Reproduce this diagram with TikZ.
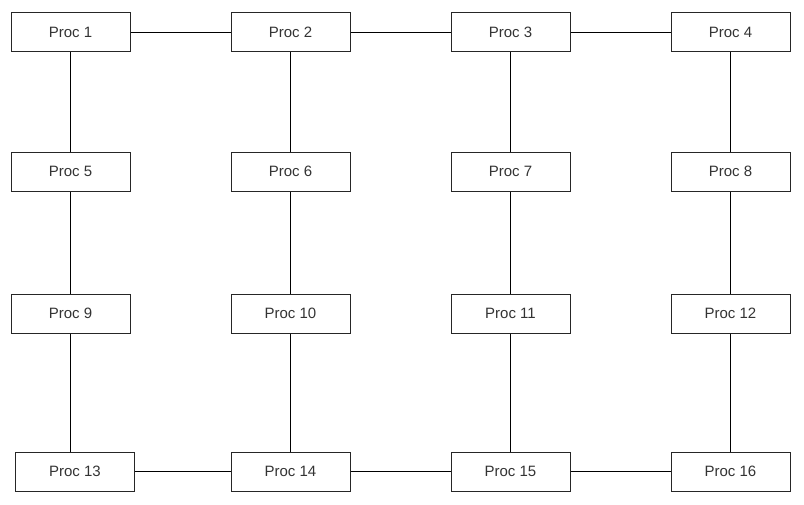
\documentclass[tikz,border=0pt]{standalone}
\usepackage{fontspec}
\setmainfont{Liberation Sans}
\begin{document}
\begin{tikzpicture}[x=1pt,y=-1pt,
  proc/.style={draw=black!85,line width=1pt,minimum width=119pt,minimum height=39pt,inner sep=0pt,
    font=\fontsize{15pt}{17pt}\selectfont,text=black!80},
  link/.style={draw=black,line width=1pt}]
\useasboundingbox (0,0) rectangle (804,504);
\node[proc] (p1) at (70.5,32) {Proc 1};
\node[proc] (p2) at (290.5,32) {Proc 2};
\node[proc] (p3) at (510.5,32) {Proc 3};
\node[proc] (p4) at (730.5,32) {Proc 4};
\node[proc] (p5) at (70.5,171.5) {Proc 5};
\node[proc] (p6) at (290.5,171.5) {Proc 6};
\node[proc] (p7) at (510.5,171.5) {Proc 7};
\node[proc] (p8) at (730.5,171.5) {Proc 8};
\node[proc] (p9) at (70.5,313.5) {Proc 9};
\node[proc] (p10) at (290.5,313.5) {Proc 10};
\node[proc] (p11) at (510.5,313.5) {Proc 11};
\node[proc] (p12) at (730.5,313.5) {Proc 12};
\node[proc] (p13) at (75,471.5) {Proc 13};
\node[proc] (p14) at (290.5,471.5) {Proc 14};
\node[proc] (p15) at (510.5,471.5) {Proc 15};
\node[proc] (p16) at (730.5,471.5) {Proc 16};
\draw[link] (p1) -- (p2);
\draw[link] (p2) -- (p3);
\draw[link] (p3) -- (p4);
\draw[link] (p13) -- (p14);
\draw[link] (p14) -- (p15);
\draw[link] (p15) -- (p16);
\draw[link] (p1) -- (p5);
\draw[link] (p5) -- (p9);
\draw[link] (p9.south) -- (p9.south |- p13.north);
\draw[link] (p2) -- (p6);
\draw[link] (p6) -- (p10);
\draw[link] (p10) -- (p14);
\draw[link] (p3) -- (p7);
\draw[link] (p7) -- (p11);
\draw[link] (p11) -- (p15);
\draw[link] (p4) -- (p8);
\draw[link] (p8) -- (p12);
\draw[link] (p12) -- (p16);
\end{tikzpicture}
\end{document}
